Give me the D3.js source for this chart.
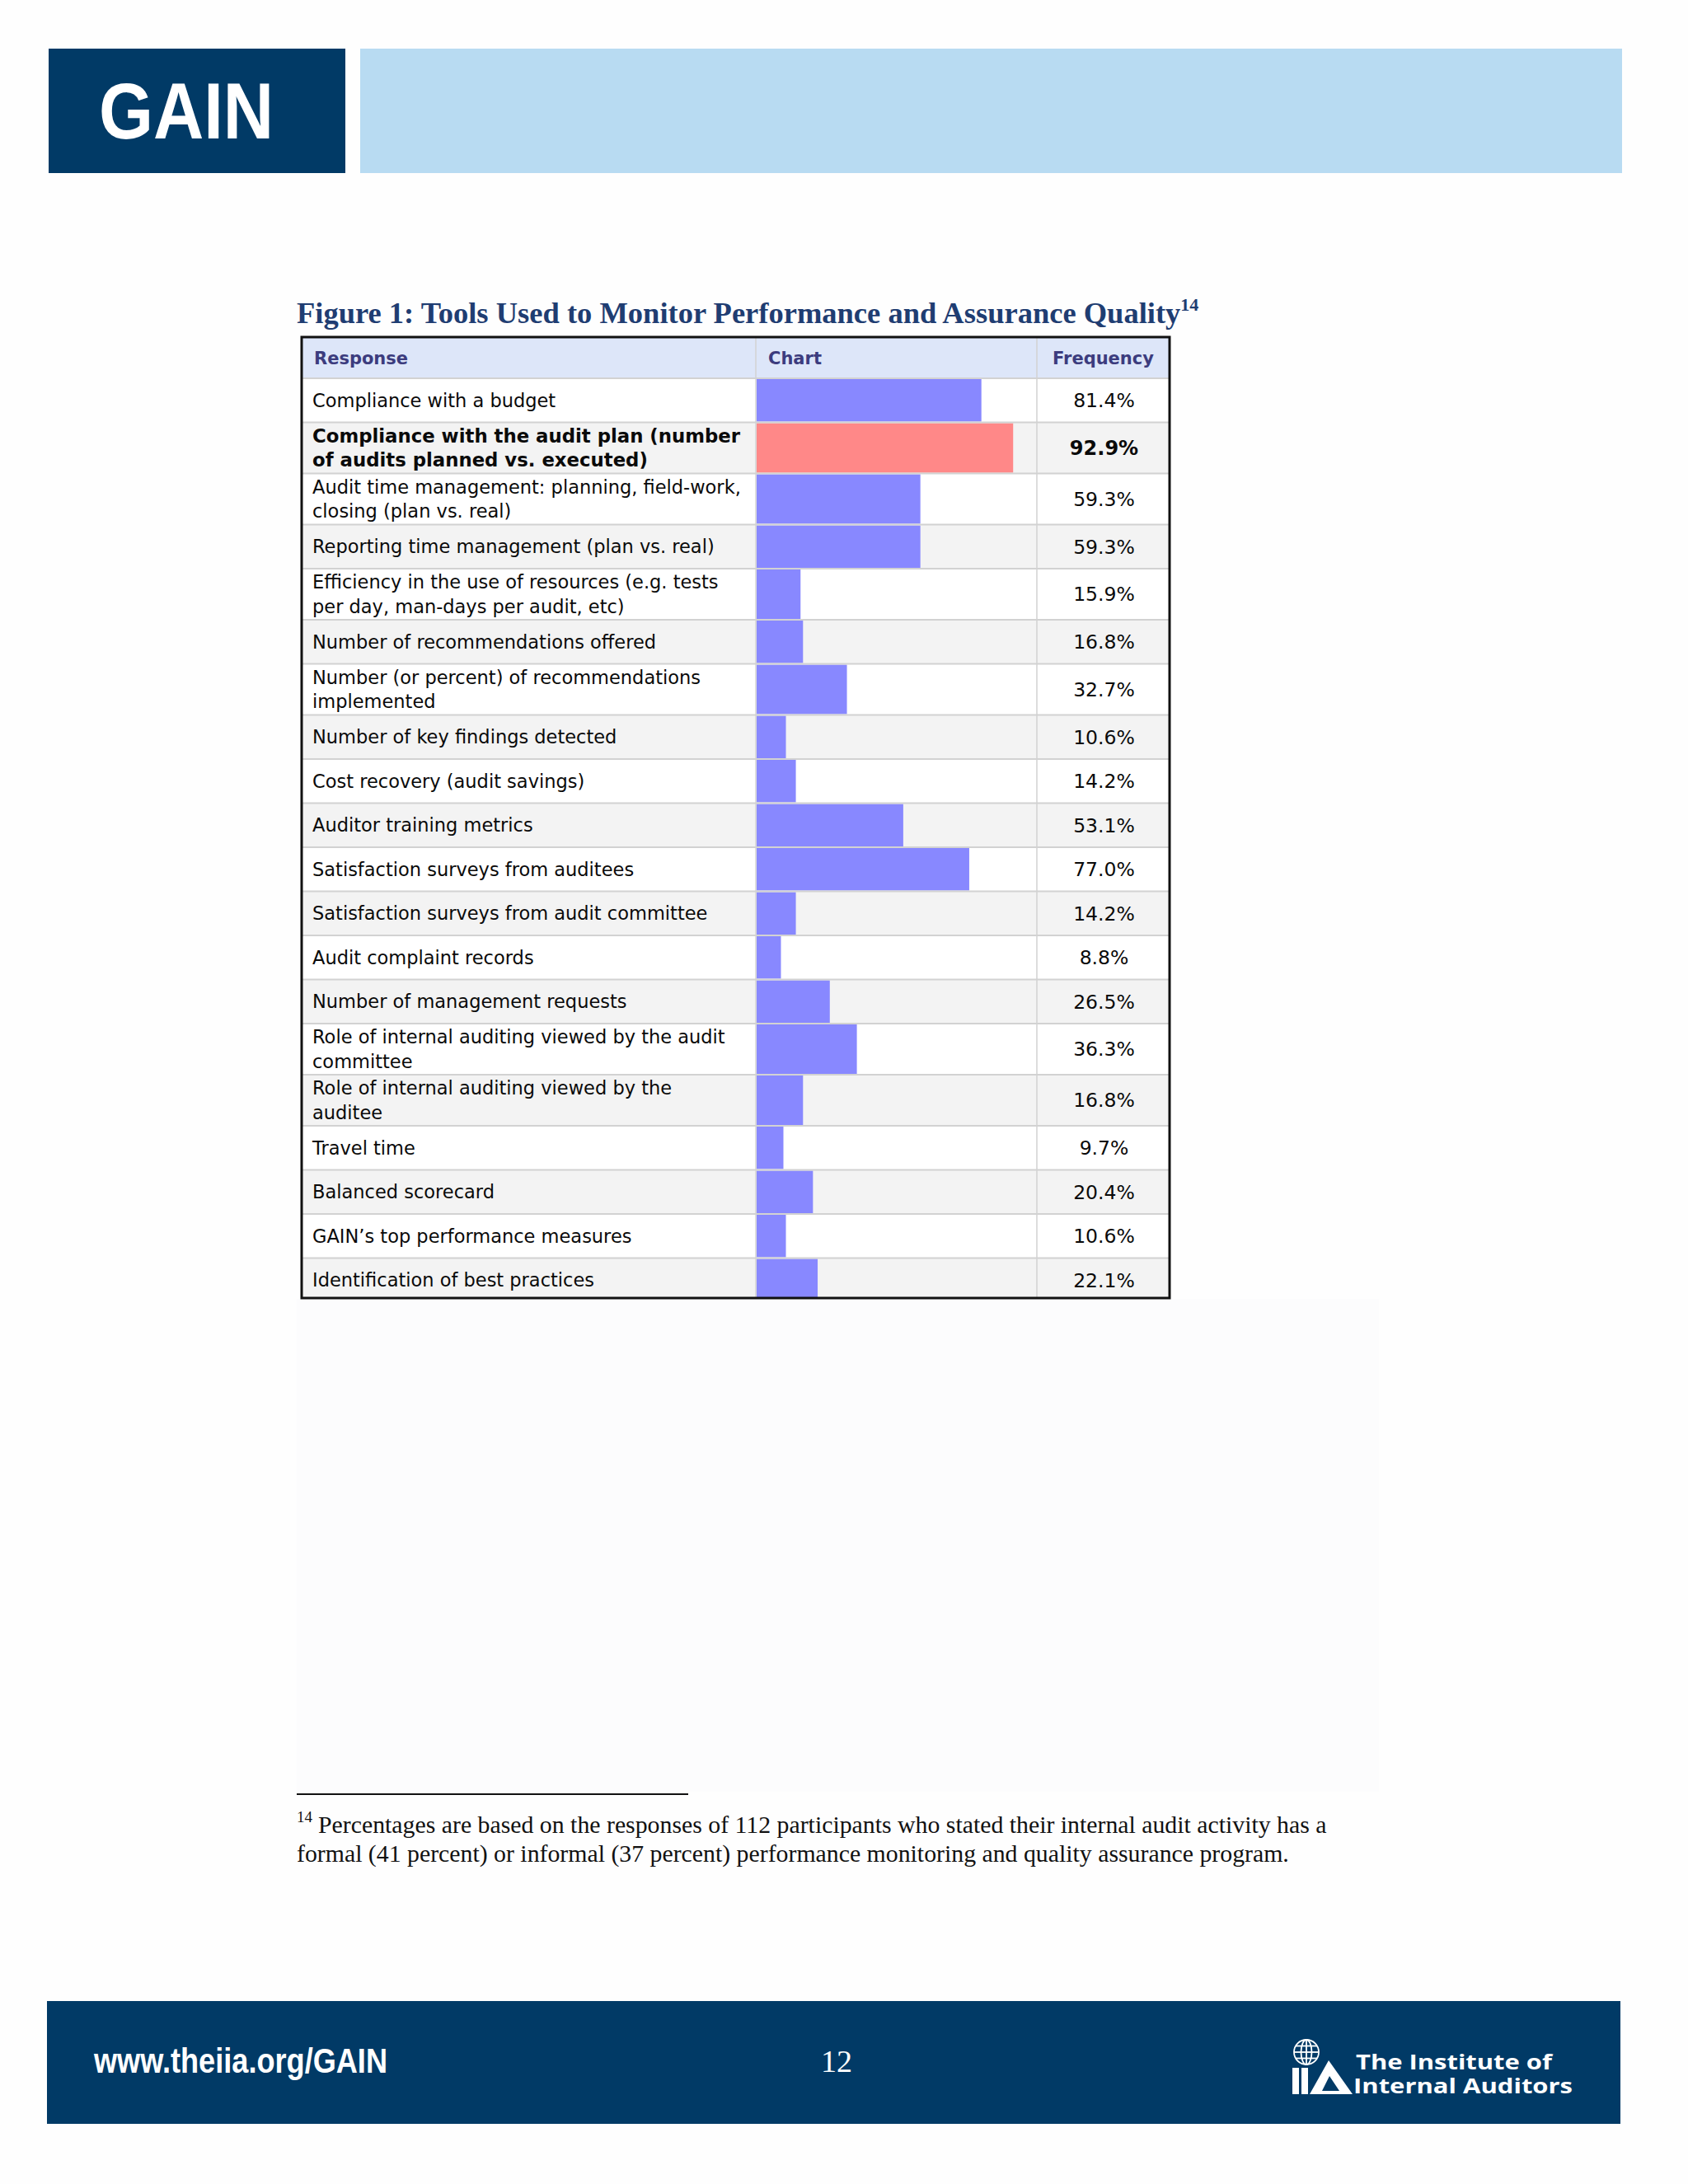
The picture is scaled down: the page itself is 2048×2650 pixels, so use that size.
<!DOCTYPE html>
<html>
<head>
<meta charset="utf-8">
<script src="https://cdn.jsdelivr.net/npm/d3@7"></script>
<style>
  body { margin: 0; background: #fff; }
</style>
</head>
<body>
<div id="page"></div>
<script>
var width = 2048;
var height = 2650;

// table data
const headers = ['Response', 'Chart', 'Frequency'];
const responses = [
  ['Compliance with a budget'],
  ['Compliance with the audit plan (number', 'of audits planned vs. executed)'],
  ['Audit time management: planning, field-work,', 'closing (plan vs. real)'],
  ['Reporting time management (plan vs. real)'],
  ['Efficiency in the use of resources (e.g. tests', 'per day, man-days per audit, etc)'],
  ['Number of recommendations offered'],
  ['Number (or percent) of recommendations', 'implemented'],
  ['Number of key findings detected'],
  ['Cost recovery (audit savings)'],
  ['Auditor training metrics'],
  ['Satisfaction surveys from auditees'],
  ['Satisfaction surveys from audit committee'],
  ['Audit complaint records'],
  ['Number of management requests'],
  ['Role of internal auditing viewed by the audit', 'committee'],
  ['Role of internal auditing viewed by the', 'auditee'],
  ['Travel time'],
  ['Balanced scorecard'],
  ['GAIN\u2019s top performance measures'],
  ['Identification of best practices']
];
const frequency = [81.4, 92.9, 59.3, 59.3, 15.9, 16.8, 32.7, 10.6, 14.2, 53.1,
                   77.0, 14.2, 8.8, 26.5, 36.3, 16.8, 9.7, 20.4, 10.6, 22.1];
const highlightIndex = 1;

const titleText = 'Figure 1: Tools Used to Monitor Performance and Assurance Quality';
const footnoteLines = [
  'Percentages are based on the responses of 112 participants who stated their internal audit activity has a',
  'formal (41 percent) or informal (37 percent) performance monitoring and quality assurance program.'
];

const navy = '#013a66';
const sans = '"DejaVu Sans", Verdana, sans-serif';
const serif = '"Liberation Serif", "Times New Roman", serif';

const svg = d3.select('#page').append('svg')
  .attr('width', width)
  .attr('height', height);

svg.append('rect').attr('width', width).attr('height', height).attr('fill', '#fefefe');
// very faint area under the table
svg.append('rect').attr('x', 360).attr('y', 1576).attr('width', 1313).attr('height', 598).attr('fill', '#fcfcfd');

// ---- top banner
svg.append('rect').attr('x', 59).attr('y', 59).attr('width', 360).attr('height', 151).attr('fill', navy);
svg.append('rect').attr('x', 437).attr('y', 59).attr('width', 1531).attr('height', 151).attr('fill', '#b8dbf2');
svg.append('text')
  .attr('x', 120).attr('y', 168)
  .attr('font-family', '"Liberation Sans Narrow", "Liberation Sans", Arial, sans-serif')
  .attr('font-weight', 'bold').attr('font-size', 96)
  .attr('textLength', 212).attr('lengthAdjust', 'spacingAndGlyphs')
  .attr('fill', '#fff')
  .text('GAIN');

// ---- title
const title = svg.append('text')
  .attr('x', 360).attr('y', 392)
  .attr('font-family', serif)
  .attr('font-weight', 'bold').attr('font-size', 36.5)
  .attr('fill', '#1f3d72');
title.append('tspan').text(titleText);
title.append('tspan').attr('font-size', 22).attr('dy', -15).text('14');

// ---- table
const tbl = { x0: 366, x1: 917, x2: 1258, x3: 1419, top: 409, head: 50, bottom: 1575 };
const rowH = responses.map(r => r.length > 1 ? 62 : 53.5);
const rowY = rowH.map((h, i) => tbl.top + tbl.head + d3.sum(rowH.slice(0, i)));

const x = d3.scaleLinear().domain([0, 100]).range([0, 335]);
const fmt = d3.format('.1f');

const rows = responses.map((lines, i) => ({
  lines: lines, value: frequency[i], y: rowY[i], h: rowH[i], i: i
}));

svg.append('clipPath').attr('id', 'tclip')
  .append('rect')
  .attr('x', tbl.x0).attr('y', tbl.top)
  .attr('width', tbl.x3 - tbl.x0).attr('height', tbl.bottom - tbl.top);

const t = svg.append('g').attr('clip-path', 'url(#tclip)');

// header
t.append('rect')
  .attr('x', tbl.x0).attr('y', tbl.top)
  .attr('width', tbl.x3 - tbl.x0).attr('height', tbl.head)
  .attr('fill', '#dde6f9');

const headX = [tbl.x0 + 15, tbl.x1 + 15, (tbl.x2 + tbl.x3) / 2];
t.selectAll('text.head')
  .data(headers)
  .join('text')
  .attr('class', 'head')
  .attr('x', (d, i) => headX[i])
  .attr('y', tbl.top + tbl.head / 2)
  .attr('dy', '0.36em')
  .attr('text-anchor', (d, i) => i == 2 ? 'middle' : 'start')
  .attr('font-family', sans)
  .attr('font-weight', 'bold').attr('font-size', 21)
  .attr('fill', '#3c3c7e')
  .text(d => d);

const row = t.selectAll('g.row')
  .data(rows)
  .join('g')
  .attr('class', 'row')
  .attr('transform', d => 'translate(0,' + d.y + ')');

row.append('rect')
  .attr('x', tbl.x0).attr('width', tbl.x3 - tbl.x0)
  .attr('height', d => d.h)
  .attr('fill', d => d.i % 2 ? '#f3f3f3' : '#ffffff');

// bars
row.append('rect')
  .attr('x', tbl.x1 + 1)
  .attr('y', 1)
  .attr('width', d => x(d.value))
  .attr('height', d => d.h - 2)
  .attr('fill', d => d.i == highlightIndex ? '#ff8888' : '#8888ff');

// response labels
row.append('text')
  .attr('font-family', sans)
  .attr('font-size', d => d.i == highlightIndex ? 22.8 : 22.5)
  .attr('font-weight', d => d.i == highlightIndex ? 'bold' : 'normal')
  .attr('fill', '#0a0a0a')
  .selectAll('tspan')
  .data(d => d.lines.map((s, k) => ({ s: s, k: k, n: d.lines.length, h: d.h })))
  .join('tspan')
  .attr('x', tbl.x0 + 13)
  .attr('y', d => d.h / 2 + (d.k - (d.n - 1) / 2) * 29.5)
  .attr('dy', '0.36em')
  .text(d => d.s);

// frequency
row.append('text')
  .attr('x', (tbl.x2 + tbl.x3) / 2 + 1)
  .attr('y', d => d.h / 2)
  .attr('dy', '0.36em')
  .attr('text-anchor', 'middle')
  .attr('font-family', sans)
  .attr('font-size', d => d.i == highlightIndex ? 24 : 23.5)
  .attr('font-weight', d => d.i == highlightIndex ? 'bold' : 'normal')
  .attr('fill', '#0a0a0a')
  .text(d => fmt(d.value) + '%');

// grid lines
t.selectAll('line.hline')
  .data([tbl.top + tbl.head].concat(rows.slice(1).map(d => d.y)))
  .join('line')
  .attr('class', 'hline')
  .attr('x1', tbl.x0).attr('x2', tbl.x3)
  .attr('y1', d => d).attr('y2', d => d)
  .attr('stroke', '#d2d2d2').attr('stroke-width', 2);

t.selectAll('line.vline')
  .data([tbl.x1, tbl.x2])
  .join('line')
  .attr('class', 'vline')
  .attr('x1', d => d).attr('x2', d => d)
  .attr('y1', tbl.top).attr('y2', tbl.bottom)
  .attr('stroke', '#d2d2d2').attr('stroke-width', 1.5);

svg.append('rect')
  .attr('x', tbl.x0).attr('y', tbl.top)
  .attr('width', tbl.x3 - tbl.x0).attr('height', tbl.bottom - tbl.top)
  .attr('fill', 'none').attr('stroke', '#111').attr('stroke-width', 3);

// ---- footnote
svg.append('line')
  .attr('x1', 360).attr('x2', 835).attr('y1', 2177).attr('y2', 2177)
  .attr('stroke', '#111').attr('stroke-width', 2);

const fn = svg.append('g')
  .attr('font-family', serif)
  .attr('font-size', 29.8)
  .attr('fill', '#111');
fn.append('text').attr('x', 360).attr('y', 2211).attr('font-size', 19).text('14');
fn.selectAll('text.fl')
  .data(footnoteLines)
  .join('text')
  .attr('class', 'fl')
  .attr('x', (d, i) => i == 0 ? 386 : 360)
  .attr('y', (d, i) => 2224 + i * 35)
  .text(d => d);

// ---- footer band
svg.append('rect').attr('x', 57).attr('y', 2428).attr('width', 1909).attr('height', 149).attr('fill', navy);
svg.append('text')
  .attr('x', 114).attr('y', 2515)
  .attr('font-family', '"Liberation Sans Narrow", "Liberation Sans", Arial, sans-serif')
  .attr('font-weight', 'bold').attr('font-size', 42)
  .attr('textLength', 356).attr('lengthAdjust', 'spacingAndGlyphs')
  .attr('fill', '#fff')
  .text('www.theiia.org/GAIN');
svg.append('text')
  .attr('x', 1015).attr('y', 2514)
  .attr('text-anchor', 'middle')
  .attr('font-family', serif)
  .attr('font-size', 38)
  .attr('fill', '#fff')
  .text('12');

// IIA logo
const logo = svg.append('g').attr('fill', '#fff').attr('stroke', 'none');
const globe = logo.append('g').attr('transform', 'translate(1585,2490)')
  .attr('fill', 'none').attr('stroke', '#fff').attr('stroke-width', 1.8);
globe.append('circle').attr('r', 15);
globe.append('ellipse').attr('rx', 6.5).attr('ry', 15);
globe.append('line').attr('x1', 0).attr('x2', 0).attr('y1', -15).attr('y2', 15);
[-7.5, 0, 7.5].forEach(function (yy) {
  var hw = Math.sqrt(15 * 15 - yy * yy);
  globe.append('line').attr('x1', -hw).attr('x2', hw).attr('y1', yy).attr('y2', yy);
});
logo.append('rect').attr('x', 1568).attr('y', 2509).attr('width', 8).attr('height', 32);
logo.append('rect').attr('x', 1579).attr('y', 2509).attr('width', 8).attr('height', 32);
logo.append('path')
  .attr('d', 'M1589,2541 L1612,2500 L1641,2541 Z M1604,2537 L1613,2519 L1625,2537 Z')
  .attr('fill-rule', 'evenodd');

const iia = svg.append('g')
  .attr('font-family', '"Open Sans", "Liberation Sans", Arial, sans-serif')
  .attr('font-weight', 'bold')
  .attr('font-size', 25)
  .attr('fill', '#fff');
iia.append('text').attr('x', 1645).attr('y', 2511)
  .attr('textLength', 238).attr('lengthAdjust', 'spacingAndGlyphs').text('The Institute of');
iia.append('text').attr('x', 1642).attr('y', 2540)
  .attr('textLength', 266).attr('lengthAdjust', 'spacingAndGlyphs').text('Internal Auditors');
</script>
</body>
</html>
